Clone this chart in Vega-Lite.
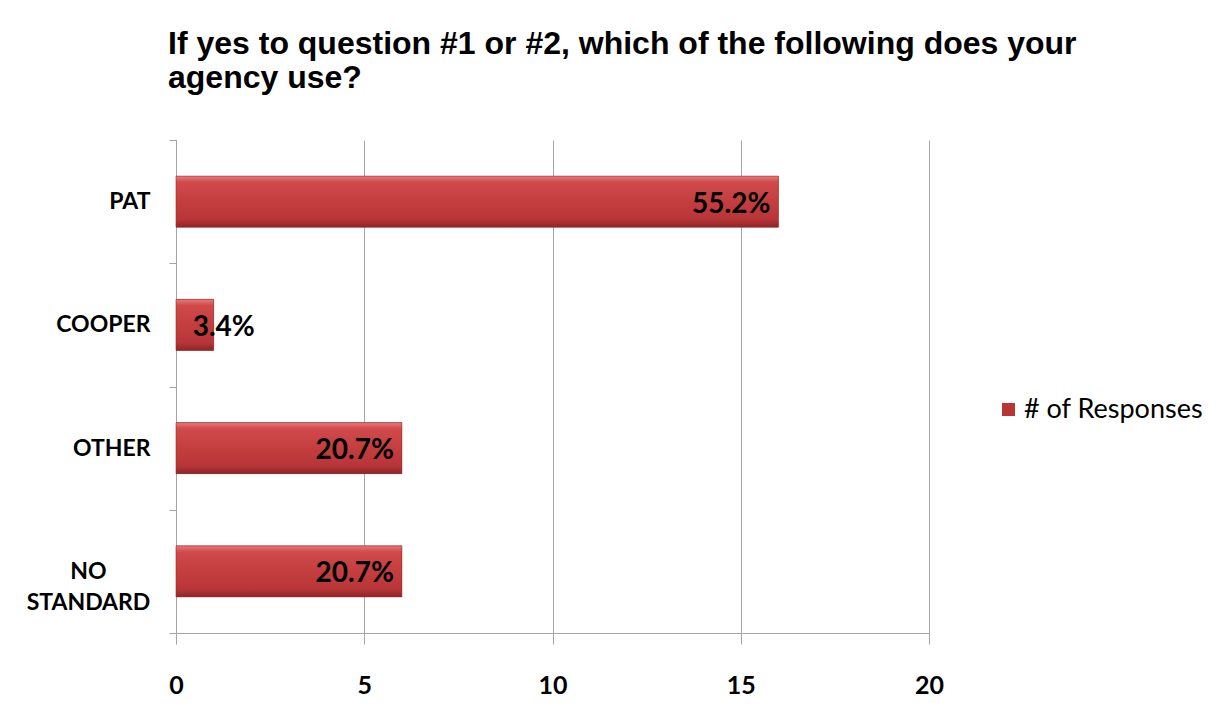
{
  "$schema": "https://vega.github.io/schema/vega-lite/v6.json",
  "width": 753,
  "height": 493,
  "autosize": {"type": "none"},
  "padding": {"left": 176, "top": 140, "right": 296, "bottom": 82},
  "background": "white",
  "title": {
    "text": ["If yes to question #1 or #2, which of the following does your", "agency use?"],
    "anchor": "start",
    "frame": "group",
    "dx": -8,
    "offset": 2,
    "baseline": "bottom",
    "font": "Liberation Sans",
    "fontSize": 32,
    "fontWeight": "bold",
    "color": "black",
    "lineHeight": 34
  },
  "config": {"view": {"stroke": null}},
  "data": {
    "values": [
      {"cat": "PAT", "n": 16, "pct": "55.2%", "series": "# of Responses"},
      {"cat": "COOPER", "n": 1, "pct": "3.4%", "series": "# of Responses"},
      {"cat": "OTHER", "n": 6, "pct": "20.7%", "series": "# of Responses"},
      {"cat": "NO STANDARD", "n": 6, "pct": "20.7%", "series": "# of Responses"}
    ]
  },
  "encoding": {
    "y": {
      "field": "cat",
      "type": "nominal",
      "sort": null,
      "scale": {"paddingInner": 0, "paddingOuter": 0},
      "axis": {
        "title": null,
        "domain": true,
        "domainColor": "#a5a5a5",
        "domainWidth": 1,
        "ticks": true,
        "tickBand": "extent",
        "tickSize": 7,
        "tickColor": "#a5a5a5",
        "grid": false,
        "labelFont": "Lato",
        "labelFontSize": 23,
        "labelFontWeight": "bold",
        "labelColor": "black",
        "labelLineHeight": 31,
        "labelBaseline": "middle",
        "labelExpr": "datum.label == 'NO STANDARD' ? ['NO', 'STANDARD'] : datum.label",
        "labelAlign": {"condition": {"test": "datum.label == 'NO STANDARD'", "value": "center"}, "value": "right"},
        "labelPadding": {"condition": {"test": "datum.label == 'NO STANDARD'", "value": 81}, "value": 19}
      }
    },
    "x": {
      "field": "n",
      "type": "quantitative",
      "scale": {"domain": [0, 20], "nice": false},
      "axis": {
        "title": null,
        "values": [0, 5, 10, 15, 20],
        "grid": true,
        "gridColor": "#a5a5a5",
        "gridWidth": 1,
        "domain": true,
        "domainColor": "#a5a5a5",
        "ticks": true,
        "tickSize": 11,
        "tickColor": "#a5a5a5",
        "labelFont": "Lato",
        "labelFontSize": 25,
        "labelFontWeight": "bold",
        "labelColor": "black",
        "labelPadding": 29,
        "labelFlush": false
      }
    }
  },
  "layer": [
    {
      "mark": {"type": "bar", "height": {"band": 0.414}},
      "encoding": {
        "color": {
          "field": "series",
          "type": "nominal",
          "scale": {"range": ["#b83436"]},
          "legend": {
            "title": null,
            "orient": "none",
            "legendX": 819,
            "legendY": 256,
            "padding": 0,
            "symbolType": "square",
            "symbolSize": 169,
            "symbolStrokeWidth": 0,
            "labelFont": "Lato",
            "labelFontSize": 27,
            "labelColor": "black",
            "labelOffset": 2,
            "labelLimit": 400
          }
        }
      }
    },
    {
      "mark": {
        "type": "bar",
        "height": {"band": 0.414},
        "stroke": "#9a2b2d",
        "strokeWidth": 0.6,
        "fill": {
          "gradient": "linear",
          "x1": 0, "y1": 0, "x2": 0, "y2": 1,
          "stops": [
            {"offset": 0, "color": "#e87a7a"},
            {"offset": 0.12, "color": "#d04a4b"},
            {"offset": 0.5, "color": "#c43e3f"},
            {"offset": 0.85, "color": "#b83537"},
            {"offset": 1, "color": "#8c2627"}
          ]
        }
      },
      "encoding": {}
    },
    {
      "transform": [{"filter": "datum.n >= 5"}],
      "mark": {"type": "text", "align": "right", "baseline": "middle", "dx": -8, "dy": 3, "font": "Lato", "fontSize": 28, "fontWeight": "bold", "color": "black"},
      "encoding": {"text": {"field": "pct"}}
    },
    {
      "transform": [{"filter": "datum.n < 5"}],
      "mark": {"type": "text", "align": "left", "baseline": "middle", "dx": -21, "dy": 3, "font": "Lato", "fontSize": 28, "fontWeight": "bold", "color": "black"},
      "encoding": {"text": {"field": "pct"}}
    }
  ]
}
